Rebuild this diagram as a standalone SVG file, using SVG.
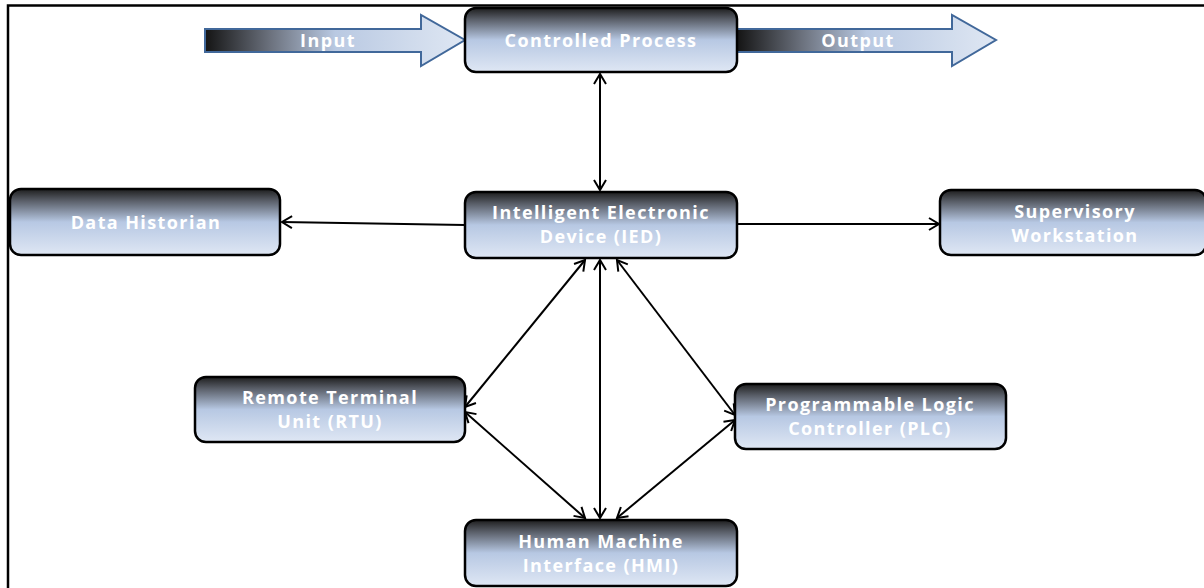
<svg xmlns="http://www.w3.org/2000/svg" width="1204" height="588" viewBox="0 0 1204 588">
  <style>
    .box { fill: url(#nodeFill); stroke: #000; stroke-width: 2.5; }
    .lbl { font-family: "Open Sans", "Liberation Sans", sans-serif; font-weight: bold; font-size: 18px; letter-spacing: 1.4px; fill: #ffffff; text-anchor: middle; }
    .flow { fill: url(#flowFill); stroke: #41689a; stroke-width: 2; }
    .link { stroke: #000; stroke-width: 2; fill: none; marker-end: url(#tip); }
    .both { marker-start: url(#tip); }
  </style>
  <defs>
    <linearGradient id="nodeFill" x1="0" y1="0" x2="0" y2="1">
      <stop offset="0" stop-color="#1e1e1e"/>
      <stop offset="0.18" stop-color="#5a5f69"/>
      <stop offset="0.5" stop-color="#b7c8e3"/>
      <stop offset="1" stop-color="#dfe7f4"/>
    </linearGradient>
    <linearGradient id="flowFill" x1="0" y1="0" x2="1" y2="0">
      <stop offset="0" stop-color="#141414"/>
      <stop offset="0.25" stop-color="#6b717d"/>
      <stop offset="0.5" stop-color="#b9c9e2"/>
      <stop offset="1" stop-color="#dfe7f3"/>
    </linearGradient>
    <marker id="tip" markerUnits="userSpaceOnUse" markerWidth="14" markerHeight="16" refX="11" refY="7" orient="auto-start-reverse">
      <path d="M1,1 L11,7 L1,13" fill="none" stroke="#000" stroke-width="2"/>
    </marker>
  </defs>

  <!-- frame -->
  <path d="M8,588 V5.5 H1204" fill="none" stroke="#000" stroke-width="2.5"/>

  <!-- input / output flows -->
  <g id="input">
    <path class="flow" d="M205,29 H421 V15 L465,40 L421,66 V52 H205 Z"/>
    <text class="lbl" x="328" y="47">Input</text>
  </g>
  <g id="output">
    <path class="flow" d="M737,29 H952 V15 L996,40 L952,66 V52 H737 Z"/>
    <text class="lbl" x="858" y="47">Output</text>
  </g>

  <!-- connectors -->
  <g id="connectors">
    <line class="link both" x1="600" y1="74" x2="600" y2="190"/>
    <line class="link" x1="465" y1="225" x2="282" y2="222"/>
    <line class="link" x1="737" y1="224" x2="939" y2="224"/>
    <line class="link both" x1="585" y1="260" x2="465" y2="407"/>
    <line class="link both" x1="600" y1="260" x2="600" y2="518"/>
    <line class="link both" x1="617" y1="260" x2="735" y2="415"/>
    <line class="link both" x1="465" y1="412" x2="585" y2="518"/>
    <line class="link both" x1="735" y1="420" x2="617" y2="518"/>
  </g>

  <g id="controlled-process">
    <rect class="box" x="465" y="8" width="272" height="64" rx="11"/>
    <text class="lbl" x="601" y="47">Controlled Process</text>
  </g>
  <g id="data-historian">
    <rect class="box" x="10" y="189" width="270" height="66" rx="11"/>
    <text class="lbl" x="146" y="229">Data Historian</text>
  </g>
  <g id="ied">
    <rect class="box" x="465" y="192" width="272" height="66" rx="11"/>
    <text class="lbl" x="601" y="219">Intelligent Electronic</text>
    <text class="lbl" x="601" y="243">Device (IED)</text>
  </g>
  <g id="supervisory-workstation">
    <rect class="box" x="940" y="190" width="266" height="65" rx="11"/>
    <text class="lbl" x="1075" y="218">Supervisory</text>
    <text class="lbl" x="1075" y="242">Workstation</text>
  </g>
  <g id="rtu">
    <rect class="box" x="195" y="377" width="270" height="65" rx="11"/>
    <text class="lbl" x="330" y="404">Remote Terminal</text>
    <text class="lbl" x="330" y="428">Unit (RTU)</text>
  </g>
  <g id="plc">
    <rect class="box" x="735" y="384" width="271" height="65" rx="11"/>
    <text class="lbl" x="870" y="411">Programmable Logic</text>
    <text class="lbl" x="870" y="435">Controller (PLC)</text>
  </g>
  <g id="hmi">
    <rect class="box" x="465" y="520" width="272" height="66" rx="11"/>
    <text class="lbl" x="601" y="548">Human Machine</text>
    <text class="lbl" x="601" y="572">Interface (HMI)</text>
  </g>
</svg>
